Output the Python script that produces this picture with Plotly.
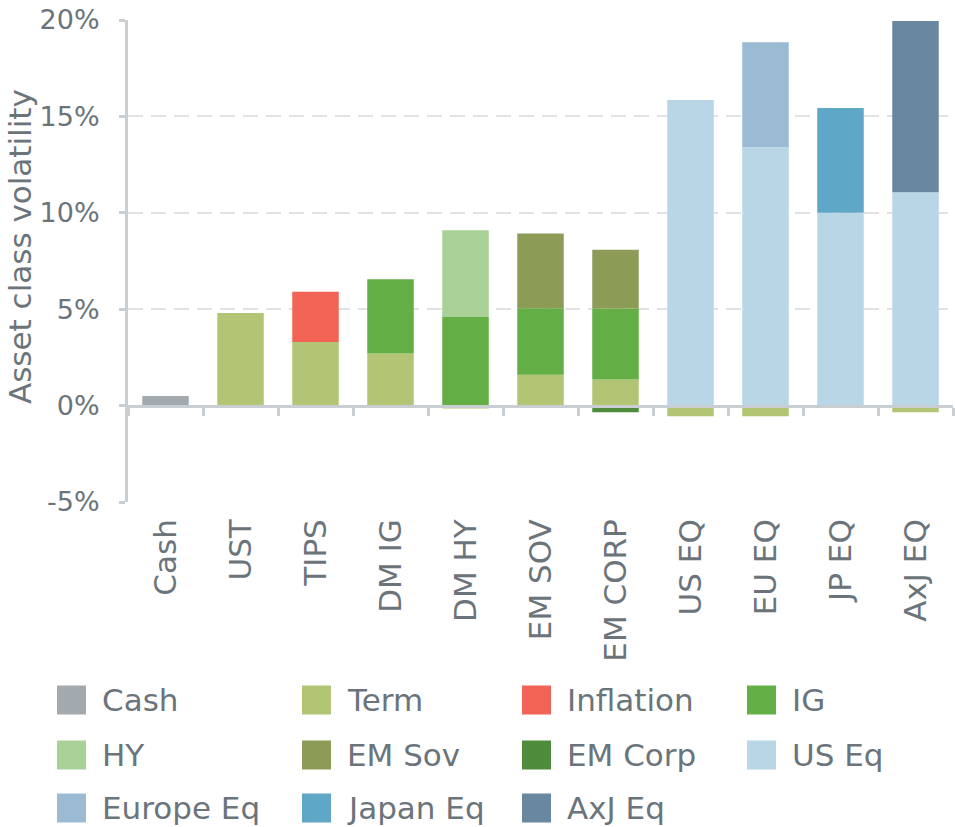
import plotly.graph_objects as go

categories = ["Cash", "UST", "TIPS", "DM IG", "DM HY", "EM SOV", "EM CORP",
              "US EQ", "EU EQ", "JP EQ", "AxJ EQ"]
cash      = [0.5, 0, -0.1, -0.1, 0, -0.1, 0, 0, 0, 0, 0]
term      = [0, 4.8, 3.3, 2.7, -0.15, 1.6, 1.35, -0.55, -0.55, -0.1, -0.35]
inflation = [0, 0, 2.6, 0, 0, 0, 0, 0, 0, 0, 0]
ig        = [0, 0, 0, 3.85, 4.6, 3.45, 3.68, 0, 0, 0, 0]
hy        = [0, 0, 0, 0, 4.5, 0, 0, 0, 0, 0, 0]
em_sov    = [0, 0, 0, 0, 0, 3.88, 3.05, 0, 0, 0, 0]
em_corp   = [0, 0, 0, 0, 0, 0, -0.35, 0, 0, 0, 0]
us_eq     = [0, 0, 0, 0, 0, 0, 0, 15.85, 13.4, 10.0, 11.07]
europe_eq = [0, 0, 0, 0, 0, 0, 0, 0, 5.45, 0, 0]
japan_eq  = [0, 0, 0, 0, 0, 0, 0, 0, 0, 5.43, 0]
axj_eq    = [0, 0, 0, 0, 0, 0, 0, 0, 0, 0, 8.88]

series_names = ["Cash", "Term", "Inflation", "IG", "HY", "EM Sov", "EM Corp",
                "US Eq", "Europe Eq", "Japan Eq", "AxJ Eq"]
series_values = [cash, term, inflation, ig, hy, em_sov, em_corp,
                 us_eq, europe_eq, japan_eq, axj_eq]
colors = ["#A3AAAF", "#B1C574", "#F16455", "#63AE45", "#A9D096", "#8C9B56",
          "#4E8C3C", "#B8D6E6", "#9BBAD4", "#5EA7C6", "#69879F"]

y_ticks = [-5, 0, 5, 10, 15, 20]

FONT = "DejaVu Sans"
TXT = "#6B747B"
AX = "#C9CED2"
NUM_SIZE = 27
WORD_SIZE = 31

fig = go.Figure()
for name, vals, col in zip(series_names, series_values, colors):
    fig.add_trace(go.Bar(x=categories, y=vals, name=name, marker_color=col,
                         marker_line_width=0, showlegend=False))

# invisible trace to carry the zero-level axis
fig.add_trace(go.Scatter(x=[-0.5, 10.5], y=[0, 0], xaxis="x2", yaxis="y",
                         mode="lines", line=dict(width=0), opacity=0,
                         hoverinfo="skip", showlegend=False))

# plot area in pixels
L, R, T, B = 128, 953, 20, 502
W, H = R - L, B - T


def px_x(px):
    return (px - L) / W


def px_y(py):
    return (B - py) / H


fig.update_layout(
    width=955, height=827,
    margin=dict(l=L, r=955 - R, t=T, b=827 - B),
    paper_bgcolor="white", plot_bgcolor="white",
    barmode="relative", bargap=0.38,
    font=dict(family=FONT, size=NUM_SIZE, color=TXT),
    xaxis=dict(type="category", range=[-0.5, 10.5], tickangle=-90,
               showline=False, ticks="", showgrid=False, zeroline=False,
               ticklabelstandoff=10, tickfont=dict(size=WORD_SIZE, color=TXT)),
    xaxis2=dict(overlaying="x", anchor="free", position=0.2,
                range=[-0.5, 10.5], tickmode="array",
                tickvals=[i + 0.5 for i in range(-1, 11)],
                ticks="outside", ticklen=8, tickwidth=3, tickcolor=AX,
                showticklabels=False, showgrid=False, zeroline=False,
                showline=True, linecolor=AX, linewidth=3),
    yaxis=dict(range=[-5, 20], tickmode="array", tickvals=y_ticks,
               ticktext=[f"{v}%" for v in y_ticks],
               ticks="outside", ticklen=6, tickwidth=3, tickcolor=AX,
               showline=True, linecolor=AX, linewidth=3,
               showgrid=True, gridcolor="#E0E3E6", gridwidth=2,
               griddash="15px,8px", zeroline=False,
               ticklabelstandoff=14, tickfont=dict(size=NUM_SIZE, color=TXT)),
)

annotations = [dict(text="Asset class volatility", textangle=-90,
                    xref="paper", yref="paper", x=px_x(20), y=px_y(247),
                    xanchor="center", yanchor="middle", showarrow=False,
                    font=dict(size=WORD_SIZE, color=TXT, family=FONT))]
shapes = []
col_x = [57, 302, 522, 747]
row_y = [700, 755, 808]
for i, (name, col) in enumerate(zip(series_names, colors)):
    r, c = divmod(i, 4)
    sx, sy = col_x[c], row_y[r]
    shapes.append(dict(type="rect", xref="paper", yref="paper",
                       x0=px_x(sx), x1=px_x(sx + 29),
                       y0=px_y(sy - 14.5), y1=px_y(sy + 14.5),
                       fillcolor=col, line=dict(width=0)))
    annotations.append(dict(text=name, xref="paper", yref="paper",
                            x=px_x(sx + 43), y=px_y(sy),
                            xanchor="left", yanchor="middle", showarrow=False,
                            font=dict(size=WORD_SIZE, color=TXT, family=FONT)))

fig.update_layout(annotations=annotations, shapes=shapes)
fig.write_html("out.html")
